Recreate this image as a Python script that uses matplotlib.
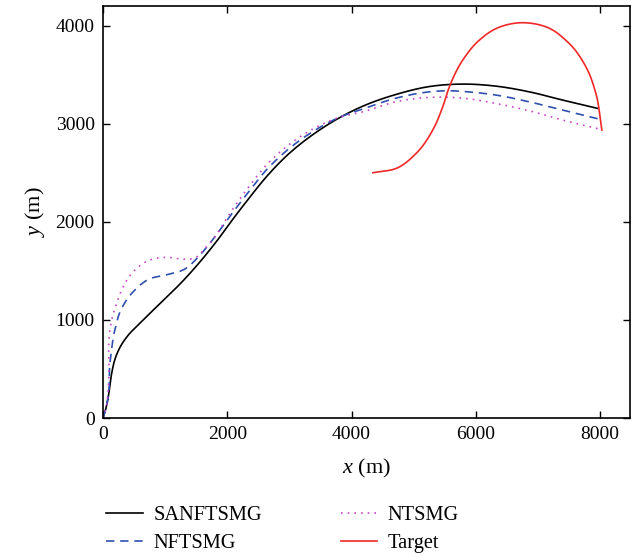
import matplotlib
matplotlib.use("Agg")
import matplotlib.pyplot as plt
import numpy as np

plt.rcParams['font.family'] = ['Liberation Serif', 'DejaVu Serif']
plt.rcParams['mathtext.fontset'] = 'custom'
plt.rcParams['mathtext.it'] = 'Liberation Serif:italic'
plt.rcParams['mathtext.rm'] = 'Liberation Serif'

# SANFTSMG (black solid)
sanf_x = [0, 40, 85, 140, 193, 273, 400, 600, 800, 1023, 1290, 1558, 1826, 2093, 2361,
          2630, 3000, 3400, 3800, 4200, 4718, 5253, 5788, 6324, 6859, 7395, 7960]
sanf_y = [0, 80, 217, 455, 600, 720, 840, 970, 1095, 1230, 1400, 1590, 1800, 2030, 2250,
          2460, 2700, 2900, 3060, 3185, 3300, 3380, 3405, 3384, 3326, 3242, 3157]

# NFTSMG (blue dashed)
nf_x = [0, 40, 85, 112, 140, 165, 193, 273, 487, 755, 1023, 1290, 1558, 1719, 2093, 2361,
        2630, 3000, 3400, 3800, 4200, 4718, 5253, 5574, 5788, 6324, 6859, 7395, 7984]
nf_y = [0, 80, 217, 560, 700, 829, 900, 1080, 1288, 1420, 1460, 1510, 1660, 1781, 2100, 2320,
        2530, 2750, 2930, 3065, 3155, 3262, 3326, 3337, 3330, 3293, 3224, 3140, 3048]

# NTSMG (magenta dotted)
nt_x = [0, 40, 85, 112, 140, 220, 326, 487, 755, 1023, 1290, 1451, 1666, 2093, 2361,
        2630, 3000, 3400, 3800, 4200, 4718, 5253, 5521, 5788, 6324, 6859, 7395, 8011]
nt_y = [0, 80, 300, 897, 999, 1169, 1339, 1492, 1611, 1638, 1620, 1625, 1746, 2135, 2370,
        2580, 2790, 2955, 3065, 3125, 3226, 3269, 3272, 3262, 3207, 3133, 3038, 2943]

# Target (red)
tg_x = [4343, 4718, 5039, 5306, 5467, 5574, 5788, 6056, 6324, 6699, 7128, 7502, 7771, 7931, 8027]
tg_y = [2501, 2545, 2698, 2936, 3173, 3377, 3649, 3853, 3971, 4030, 3989, 3819, 3581, 3310, 2936]


def smooth(x, y, n=600):
    x = np.asarray(x, float)
    y = np.asarray(y, float)
    d = np.hypot(np.diff(x) / 8500, np.diff(y) / 4200)
    t = np.concatenate([[0], np.cumsum(d)])
    tt = np.linspace(0, t[-1], n)

    def herm(v):
        m = np.gradient(v, t)
        idx = np.clip(np.searchsorted(t, tt) - 1, 0, len(t) - 2)
        h = t[idx + 1] - t[idx]
        s = (tt - t[idx]) / h
        h00 = 2 * s**3 - 3 * s**2 + 1
        h10 = s**3 - 2 * s**2 + s
        h01 = -2 * s**3 + 3 * s**2
        h11 = s**3 - s**2
        return h00 * v[idx] + h10 * h * m[idx] + h01 * v[idx + 1] + h11 * h * m[idx + 1]
    return herm(x), herm(y)


fig = plt.figure(figsize=(6.31, 5.56), dpi=100)
ax = fig.add_axes([0.1632, 0.2482, 0.8352, 0.7408])

l1, = ax.plot(*smooth(sanf_x, sanf_y), color='black', lw=1.2, label='SANFTSMG')
l2, = ax.plot(*smooth(nf_x, nf_y), color='#3050b0', lw=1.2, linestyle=(0, (5, 3.5)), label='NFTSMG')
l3, = ax.plot(*smooth(nt_x, nt_y), color='#c845c8', lw=1.2, linestyle=(0, (1, 3)), label='NTSMG')
l4, = ax.plot(*smooth(tg_x, tg_y), color='#f02828', lw=1.2, label='Target')

ax.set_xlim(0, 8480)
ax.set_ylim(0, 4200)
ax.set_xticks([0, 2000, 4000, 6000, 8000])
ax.set_yticks([0, 1000, 2000, 3000, 4000])
ax.tick_params(direction='in', top=True, right=True, length=5, width=1, labelsize=14,
               colors='black', pad=6)
for sp in ax.spines.values():
    sp.set_linewidth(1.2)

ax.set_xlabel(r'$x$ (m)', fontsize=16, labelpad=10)
ax.set_ylabel(r'$y$ (m)', fontsize=16, labelpad=6)

fig.legend(handles=[l1, l2, l3, l4], loc='lower left', bbox_to_anchor=(0.1395, -0.028),
           ncol=2, frameon=False, fontsize=14.7, handlelength=1.8, handletextpad=0.5,
           columnspacing=3.85, labelspacing=0.45)

fig.savefig('out.png', dpi=100)
